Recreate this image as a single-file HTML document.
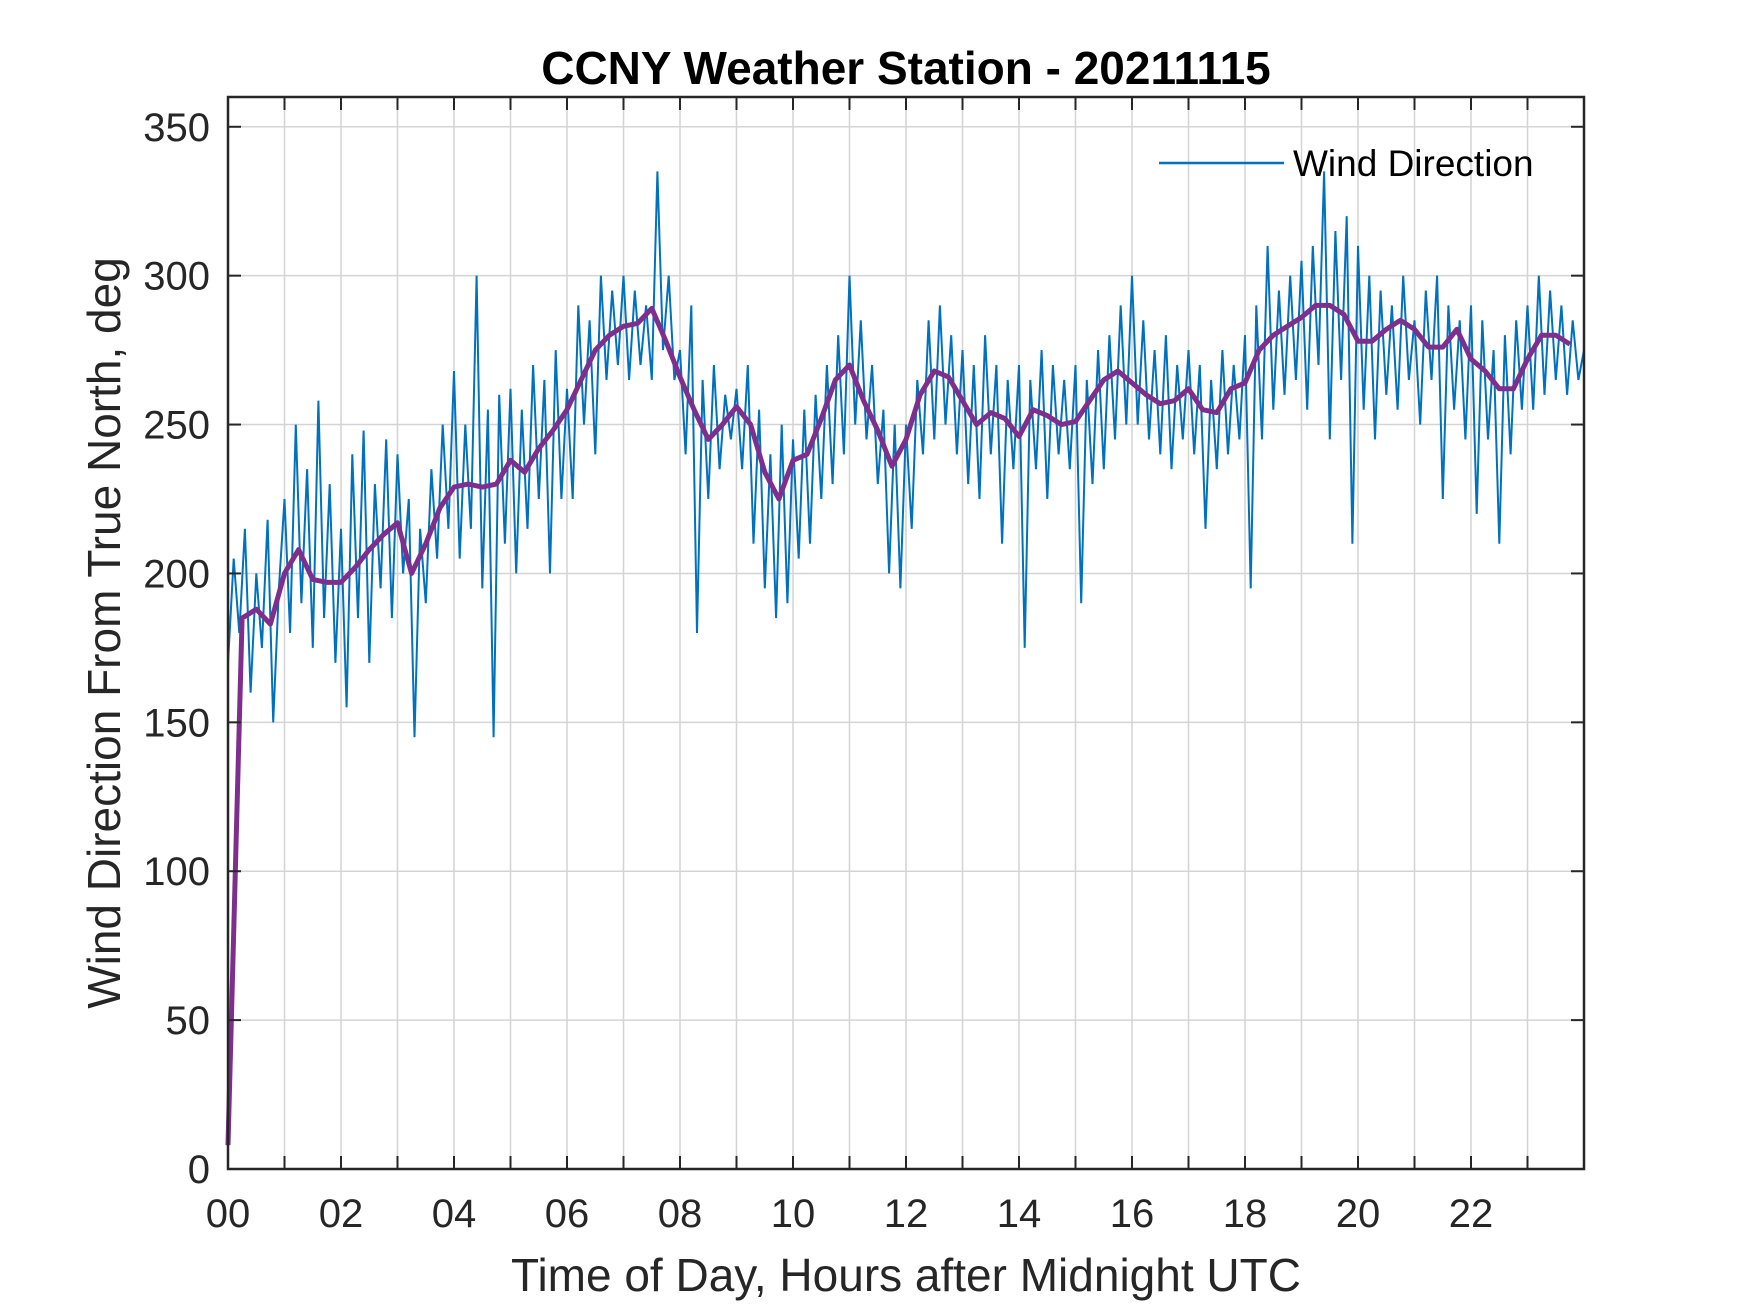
<!DOCTYPE html>
<html><head><meta charset="utf-8"><style>
html,body{margin:0;padding:0;background:#fff;}
svg{display:block;font-family:"Liberation Sans",Arial,sans-serif;}
</style></head><body>
<svg id="chart" width="1750" height="1313" viewBox="0 0 1750 1313">
<rect x="0" y="0" width="1750" height="1313" fill="#fff"/>
<text x="906" y="84" text-anchor="middle" font-size="46" font-weight="bold" fill="#000">CCNY Weather Station - 20211115</text>
<g id="grid"></g>
<g id="series"></g>
<g id="axes"></g>
<text x="906" y="1291" text-anchor="middle" font-size="46" fill="#262626">Time of Day, Hours after Midnight UTC</text>
<text transform="translate(120,633) rotate(-90)" text-anchor="middle" font-size="46" fill="#262626">Wind Direction From True North, deg</text>
<g>
<line x1="1159" y1="163" x2="1284" y2="163" stroke="#0072BD" stroke-width="2.5"/>
<text x="1293" y="176" font-size="37" fill="#000">Wind Direction</text>
</g>
</svg>
<script>
const blueStep = 0.1;
const blueValues = [
170,205,180,215,160,200,175,218,150,195,
225,180,250,190,235,175,258,185,230,170,
215,155,240,185,248,170,230,195,245,185,
240,200,225,145,215,190,235,205,250,215,
268,205,250,215,300,195,255,145,260,210,
262,200,255,215,270,225,265,200,275,225,
262,225,290,250,285,240,300,265,295,270,
300,265,295,270,290,265,335,275,300,265,
275,240,290,180,265,225,270,235,260,245,
262,235,270,210,255,195,240,185,250,190,
245,205,255,210,260,225,270,230,280,240,
300,250,285,245,270,230,255,200,250,195,
250,215,265,240,285,245,290,250,280,240,
275,230,270,225,280,240,270,210,265,235,
270,175,265,235,275,225,270,240,265,235,
270,190,265,230,275,235,280,245,290,250,
300,250,285,245,275,240,280,235,270,245,
275,240,270,215,265,235,275,240,270,245,
280,195,290,245,310,255,295,260,300,265,
305,255,310,270,335,245,315,265,320,210,
310,255,300,245,295,260,290,255,300,265,
285,250,295,265,300,225,290,255,285,245,
290,220,285,245,275,210,280,240,285,255,
290,255,300,260,295,265,290,260,285,265,
275];
const avgStep = 0.25;
const avgValues = [
8,185,188,183,200,208,198,197,
197,202,208,213,217,200,210,222,
229,230,229,230,238,234,242,248,
255,265,275,280,283,284,289,278,
266,255,245,250,256,250,234,225,
238,240,252,265,270,258,248,236,
245,260,268,266,258,250,254,252,
246,255,253,250,251,258,265,268,
264,260,257,258,262,255,254,262,
264,275,280,283,286,290,290,287,
278,278,282,285,282,276,276,282,
272,268,262,262,272,280,280,277];
const xTickValues = [0,2,4,6,8,10,12,14,16,18,20,22];
const xTickLabels = ["00","02","04","06","08","10","12","14","16","18","20","22"];
const yTickValues = [0,50,100,150,200,250,300,350];
const yTickLabels = ["0","50","100","150","200","250","300","350"];

const L=228,R=1584,T=97,B=1169, XMAX=24, YMAX=360;
const xs = h => L + (h/XMAX)*(R-L);
const ys = v => B - (v/YMAX)*(B-T);
const NS="http://www.w3.org/2000/svg";
function mk(tag, attrs, parent){const e=document.createElementNS(NS,tag);for(const k in attrs)e.setAttribute(k,attrs[k]);parent.appendChild(e);return e;}
const grid=document.getElementById('grid'), axes=document.getElementById('axes'), series=document.getElementById('series');
for(let h=1;h<24;h++){
  const g=mk('line',{x1:xs(h),x2:xs(h),y1:T,y2:B,stroke:'#d4d4d4','stroke-width':1.5},grid);
  
  
}
yTickValues.forEach(v=>{
  if(v===0) return;
  const g=mk('line',{x1:L,x2:R,y1:ys(v),y2:ys(v),stroke:'#d4d4d4','stroke-width':1.5},grid);
  
  
});
let d='';
blueValues.forEach((v,i)=>{d+=(i?'L':'M')+xs(i*blueStep).toFixed(1)+' '+ys(v).toFixed(1);});
const bl=mk('path',{d:d,fill:'none',stroke:'#0072BD','stroke-width':2,'stroke-linejoin':'miter'},series);


let d2='';
avgValues.forEach((v,i)=>{d2+=(i?'L':'M')+xs(i*avgStep).toFixed(1)+' '+ys(v).toFixed(1);});
const pl=mk('path',{d:d2,fill:'none',stroke:'#7E2F8E','stroke-width':5,'stroke-linejoin':'round'},series);


const box=mk('rect',{x:L,y:T,width:R-L,height:B-T,fill:'none',stroke:'#262626','stroke-width':2.5},axes);


for(let h=1;h<24;h++){
  const t1=mk('line',{x1:xs(h),x2:xs(h),y1:B,y2:B-13,stroke:'#262626','stroke-width':2},axes);
  
  
  const t2=mk('line',{x1:xs(h),x2:xs(h),y1:T,y2:T+13,stroke:'#262626','stroke-width':2},axes);
  
  
}
xTickValues.forEach((h,i)=>{
  const t=mk('text',{x:xs(h),y:B+58,'text-anchor':'middle','font-size':40,fill:'#262626'},axes);
  t.textContent=xTickLabels[i];
  
  
});
yTickValues.forEach((v,i)=>{
  const t1=mk('line',{x1:L,x2:L+13,y1:ys(v),y2:ys(v),stroke:'#262626','stroke-width':2},axes);
  
  
  const t2=mk('line',{x1:R,x2:R-13,y1:ys(v),y2:ys(v),stroke:'#262626','stroke-width':2},axes);
  
  
  const t=mk('text',{x:L-18,y:ys(v)+14,'text-anchor':'end','font-size':40,fill:'#262626'},axes);
  t.textContent=yTickLabels[i];
  
  
});
</script>
</body></html>
